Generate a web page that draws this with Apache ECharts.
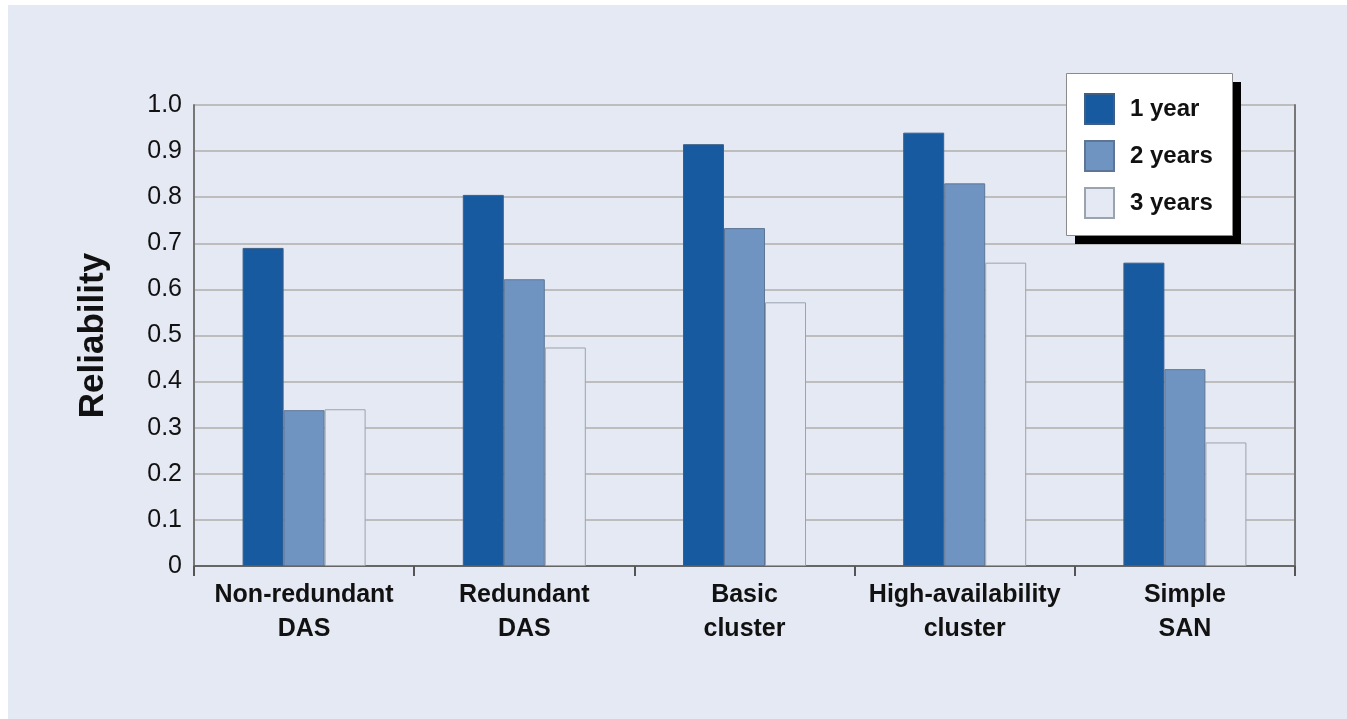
<!DOCTYPE html>
<html>
<head>
<meta charset="utf-8">
<script src="https://cdn.jsdelivr.net/npm/echarts@6/dist/echarts.min.js"></script>
<style>
  html, body { margin: 0; padding: 0; background: #ffffff; }
  #chart { position: absolute; left: 8px; top: 5px; width: 1339px; height: 714px; }
</style>
</head>
<body>
<div id="chart"></div>
<script>
// data
const categories = ['Non-redundant\nDAS', 'Redundant\nDAS', 'Basic\ncluster', 'High-availability\ncluster', 'Simple\nSAN'];
const oneYear = [0.69, 0.805, 0.915, 0.94, 0.658];
const twoYears = [0.338, 0.622, 0.733, 0.83, 0.427];
const threeYears = [0.34, 0.474, 0.572, 0.658, 0.268];
const seriesNames = ['1 year', '2 years', '3 years'];

const font = "'Liberation Sans', Arial, sans-serif";

const chart = echarts.init(document.getElementById('chart'), null, { renderer: 'canvas' });

function bar(name, data, color, border) {
  return {
    name: name,
    type: 'bar',
    data: data,
    barWidth: 41,
    barGap: '0%',
    itemStyle: { color: color, borderColor: border, borderWidth: 1 },
    emphasis: { disabled: true }
  };
}

chart.setOption({
  backgroundColor: '#e5e9f3',
  animation: false,
  textStyle: { fontFamily: font },
  grid: { left: 186, right: 52, top: 100, bottom: 153 },
  // legend frame with its hard black drop shadow
  graphic: [
    { type: 'rect', left: 1067, top: 77, z: 3, shape: { width: 166, height: 162 }, style: { fill: '#000' } },
    { type: 'rect', left: 1058, top: 68, z: 3, shape: { width: 166, height: 162 }, style: { fill: '#fff', stroke: '#8a8a8a', lineWidth: 1 } }
  ],
  legend: {
    orient: 'vertical',
    left: 1058,
    top: 68,
    z: 5,
    data: seriesNames,
    icon: 'rect',
    itemWidth: 29,
    itemHeight: 30,
    itemGap: 15,
    padding: [20, 16, 20, 18],
    textStyle: { fontSize: 24, fontWeight: 'bold', color: '#111', padding: [0, 0, 0, 11], fontFamily: font }
  },
  xAxis: {
    type: 'category',
    data: categories,
    axisLine: { lineStyle: { color: '#666', width: 2 } },
    axisTick: { show: true, interval: 0, length: 10, lineStyle: { color: '#555', width: 2 } },
    axisLabel: { interval: 0, fontSize: 25, fontWeight: 'bold', color: '#111', lineHeight: 34, margin: 12, fontFamily: font }
  },
  yAxis: [{
    type: 'value',
    min: 0,
    max: 1,
    interval: 0.1,
    name: 'Reliability',
    nameLocation: 'middle',
    nameGap: 83,
    nameTextStyle: { fontSize: 35, fontWeight: 'bold', color: '#111', fontFamily: font },
    axisLine: { show: true, lineStyle: { color: '#777', width: 2 } },
    axisTick: { show: false },
    axisLabel: {
      fontSize: 25,
      color: '#111',
      margin: 12,
      fontFamily: font,
      formatter: function (v) { return v === 0 ? '0' : v.toFixed(1); }
    },
    splitLine: { lineStyle: { color: '#bdbdbd', width: 2 } }
  }, {
    type: 'value',
    position: 'right',
    min: 0,
    max: 1,
    interval: 0.1,
    axisLine: { show: true, lineStyle: { color: '#777', width: 2 } },
    axisTick: { show: false },
    axisLabel: { show: false },
    splitLine: { show: false }
  }],
  series: [
    bar(seriesNames[0], oneYear, '#185a9f', '#3d5f86'),
    bar(seriesNames[1], twoYears, '#6f94c2', '#5d7696'),
    bar(seriesNames[2], threeYears, '#e4e9f3', '#9ba3ae')
  ]
});
</script>
</body>
</html>
